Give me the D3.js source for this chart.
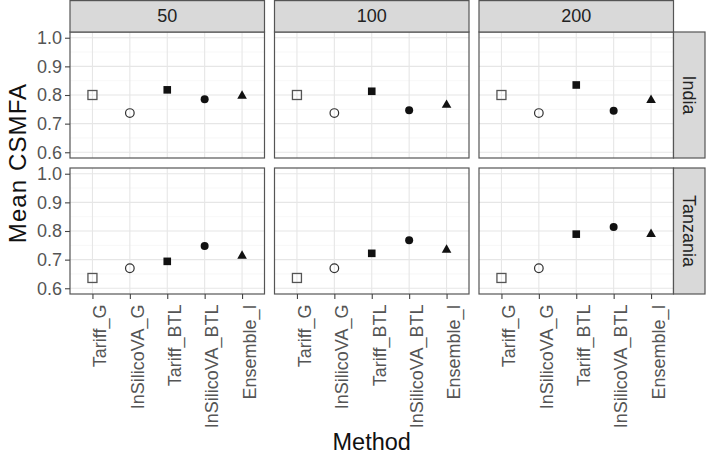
<!DOCTYPE html>
<html>
<head>
<meta charset="utf-8">
<script src="https://cdn.jsdelivr.net/npm/d3@7"></script>
<style>
  body { margin: 0; background: #fff; }
  svg { display: block; font-family: "Liberation Sans", Arial, Helvetica, sans-serif; }
</style>
</head>
<body>
<div id="chart"></div>
<script>
const methods = ["Tariff_G", "InSilicoVA_G", "Tariff_BTL", "InSilicoVA_BTL", "Ensemble_I"];
const sampleSizes = ["50", "100", "200"];
const countries = ["India", "Tanzania"];
const yTicks = [0.6, 0.7, 0.8, 0.9, 1.0];

// Mean CSMFA per method, one array per country / sample size
const india50 = [0.800, 0.737, 0.818, 0.785, 0.797];
const india100 = [0.800, 0.737, 0.813, 0.747, 0.765];
const india200 = [0.800, 0.737, 0.835, 0.745, 0.782];
const tanzania50 = [0.636, 0.670, 0.694, 0.748, 0.713];
const tanzania100 = [0.636, 0.670, 0.722, 0.768, 0.734];
const tanzania200 = [0.636, 0.670, 0.789, 0.814, 0.789];

const values = {
  India: { "50": india50, "100": india100, "200": india200 },
  Tanzania: { "50": tanzania50, "100": tanzania100, "200": tanzania200 }
};

const W = 713, H = 457;
const padL = 70, padR = 673.5, padT = 32, padB = 294, gap = 10;
const pw = (padR - padL - gap * 2) / 3;
const ph = (padB - padT - gap) / 2;
const tickFont = "18px";

const svg = d3.select("#chart").append("svg")
  .attr("width", W).attr("height", H);

const x = d3.scalePoint().domain(methods).range([0, pw]).padding(0.6);
const y = d3.scaleLinear().domain([0.58, 1.02]).range([ph, 0]);

const minorTicks = d3.range(0.65, 1.0, 0.1);

// shape drawing per method
function drawShape(g, method, cx, cy) {
  if (method === "Tariff_G") {
    g.append("rect").attr("x", cx - 4.5).attr("y", cy - 4.5).attr("width", 9).attr("height", 9)
      .attr("fill", "none").attr("stroke", "#555").attr("stroke-width", 1.3);
  } else if (method === "InSilicoVA_G") {
    g.append("circle").attr("cx", cx).attr("cy", cy).attr("r", 4.3)
      .attr("fill", "none").attr("stroke", "#333").attr("stroke-width", 1.2);
  } else if (method === "Tariff_BTL") {
    g.append("rect").attr("x", cx - 3.8).attr("y", cy - 3.8).attr("width", 7.6).attr("height", 7.6)
      .attr("fill", "#111");
  } else if (method === "InSilicoVA_BTL") {
    g.append("circle").attr("cx", cx).attr("cy", cy).attr("r", 4).attr("fill", "#111");
  } else {
    g.append("path")
      .attr("d", d3.symbol().type(d3.symbolTriangle).size(40)())
      .attr("transform", `translate(${cx},${cy})`)
      .attr("fill", "#111");
  }
}

countries.forEach((country, r) => {
  sampleSizes.forEach((n, c) => {
    const px = padL + c * (pw + gap);
    const py = padT + r * (ph + gap);
    const g = svg.append("g").attr("transform", `translate(${px},${py})`);

    // grid
    g.selectAll(".minor").data(minorTicks).enter().append("line")
      .attr("x1", 0).attr("x2", pw)
      .attr("y1", d => y(d)).attr("y2", d => y(d))
      .attr("stroke", "#f2f2f2").attr("stroke-width", 0.6);
    g.selectAll(".majy").data(yTicks).enter().append("line")
      .attr("x1", 0).attr("x2", pw)
      .attr("y1", d => y(d)).attr("y2", d => y(d))
      .attr("stroke", "#e6e6e6").attr("stroke-width", 1.1);
    g.selectAll(".majx").data(methods).enter().append("line")
      .attr("y1", 0).attr("y2", ph)
      .attr("x1", d => x(d)).attr("x2", d => x(d))
      .attr("stroke", "#e6e6e6").attr("stroke-width", 1.1);

    // points
    values[country][n].forEach((v, i) => drawShape(g, methods[i], x(methods[i]), y(v)));

    // border
    g.append("rect").attr("x", 0).attr("y", 0).attr("width", pw).attr("height", ph)
      .attr("fill", "none").attr("stroke", "#555").attr("stroke-width", 1.2);

    // y axis on first column
    if (c === 0) {
      const ay = g.append("g")
        .call(d3.axisLeft(y).tickValues(yTicks).tickFormat(d3.format(".1f")).tickSize(5).tickPadding(3));
      ay.select(".domain").remove();
      ay.selectAll("line").attr("stroke", "#444").attr("stroke-width", 1.1);
      ay.selectAll("text").attr("fill", "#555").style("font-size", tickFont)
        .style("font-family", "Liberation Sans, Arial, sans-serif");
    }

    // x axis on bottom row
    if (r === 1) {
      const ax = g.append("g").attr("transform", `translate(0,${ph})`)
        .call(d3.axisBottom(x).tickSize(5).tickFormat(""));
      ax.select(".domain").remove();
      ax.selectAll("line").attr("stroke", "#444").attr("stroke-width", 1.1);
      g.selectAll(".xl").data(methods).enter().append("text")
        .attr("transform", d => `translate(${x(d) + 7.5},${ph + 10.5}) rotate(-90)`)
        .attr("text-anchor", "end").attr("dy", "0.35em")
        .attr("fill", "#555").style("font-size", tickFont)
        .text(d => d);
    }

    // top strips
    if (r === 0) {
      svg.append("rect").attr("x", px).attr("y", 0.6).attr("width", pw).attr("height", padT - 0.6)
        .attr("fill", "#d9d9d9").attr("stroke", "#555").attr("stroke-width", 1.2);
      svg.append("text").attr("x", px + pw / 2).attr("y", padT / 2).attr("dy", "0.35em")
        .attr("text-anchor", "middle").attr("fill", "#222").style("font-size", tickFont).text(n);
    }

    // right strips
    if (c === 2) {
      const sw = 705 - padR;
      svg.append("rect").attr("x", padR).attr("y", py).attr("width", sw).attr("height", ph)
        .attr("fill", "#d9d9d9").attr("stroke", "#555").attr("stroke-width", 1.2);
      svg.append("text")
        .attr("transform", `translate(${padR + sw / 2},${py + ph / 2}) rotate(90)`)
        .attr("dy", "0.35em").attr("text-anchor", "middle")
        .attr("fill", "#222").style("font-size", tickFont).text(country);
    }
  });
});

// axis titles
svg.append("text")
  .attr("transform", `translate(26,${(padT + padB) / 2}) rotate(-90)`)
  .attr("text-anchor", "middle").attr("fill", "#111").style("font-size", "24px")
  .style("letter-spacing", "1.1px")
  .text("Mean CSMFA");

svg.append("text")
  .attr("x", (padL + padR) / 2).attr("y", 450)
  .attr("text-anchor", "middle").attr("fill", "#111").style("font-size", "23.5px")
  .text("Method");
</script>
</body>
</html>
